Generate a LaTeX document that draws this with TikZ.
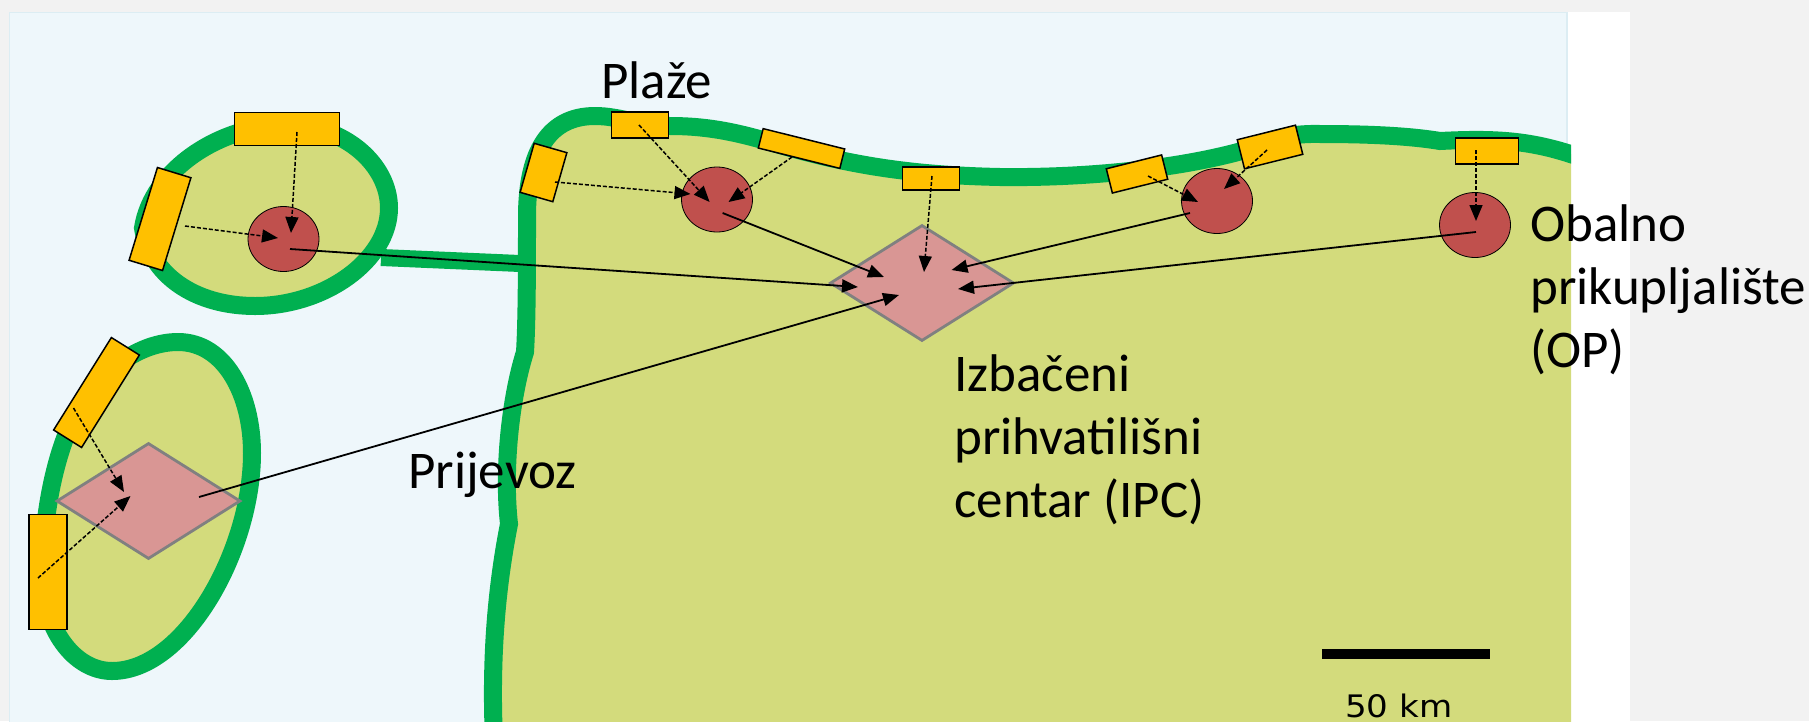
\documentclass[tikz,border=0pt]{standalone}
\usepackage{fontspec}
\setmainfont{Carlito}
\newfontfamily\barfont[FakeStretch=1.1]{DejaVu Sans}
\usetikzlibrary{positioning,arrows.meta,shapes.geometric}
\definecolor{sea}{HTML}{EEF7FB}
\definecolor{seaedge}{HTML}{DCEDF3}
\definecolor{land}{HTML}{D3DB7C}
\definecolor{coast}{HTML}{00B050}
\definecolor{beach}{HTML}{FFC000}
\definecolor{opred}{HTML}{C0504D}
\definecolor{ipcpink}{HTML}{D99694}
\definecolor{page}{HTML}{F2F2F2}
\tikzset{
    shore/.style={draw=coast, line width=18pt, fill=land},
    plaza/.style={draw=black, line width=1.5pt, fill=beach, inner sep=0pt},
    op/.style={draw=black, line width=.8pt, fill=opred, ellipse, inner sep=0pt, minimum width=71pt, minimum height=65pt},
    ipc/.style={draw=black!50, line width=2.8pt, fill=ipcpink, diamond, inner sep=0pt, minimum width=184pt, minimum height=116pt},
    dashflow/.style={-{Triangle[length=16pt,width=13pt]}, line width=1.5pt, dash pattern=on 4pt off 2pt},
    flow/.style={-{Triangle[length=16pt,width=13pt]}, line width=1.8pt},
    label/.style={inner sep=0pt, align=left, font=\fontsize{53}{63}\selectfont}
}

\begin{document}
\begin{tikzpicture}[x=1pt,y=-1pt]
    \useasboundingbox (0,0) rectangle (1809,721);
    % Background
    \fill[page] (0,0) rectangle (1809,721);
    \fill[white] (1560,12) rectangle (1630,721);
    \draw[seaedge, fill=sea, line width=1.5pt] (9.5,12.5) rectangle (1567,730);

    % Islands and mainland
    \draw[coast, line width=17pt] (381,257.5) -- (520,263.5);
    \draw[shore] (143,228) .. controls (152,170) and (220,125) .. (287,125)
        .. controls (345,125) and (389,165) .. (389,208)
        .. controls (389,260) and (325,306) .. (255,306)
        .. controls (195,306) and (150,275) .. (143,228) -- cycle;
    \draw[shore] (178,342) .. controls (225,342) and (252,395) .. (252,453)
        .. controls (252,550) and (185,671) .. (112,671)
        .. controls (75,671) and (42,630) .. (42,570)
        .. controls (44,510) and (55,455) .. (75,415)
        .. controls (100,370) and (140,342) .. (178,342) -- cycle;
    \begin{scope}
        \clip (0,0) rectangle (1571,721);
        \draw[shore] (494,740) .. controls (490,650) and (498,580) .. (509,524)
            .. controls (503,470) and (510,400) .. (525,352)
            .. controls (527,320) and (527,260) .. (527,217)
            .. controls (527,150) and (550,116) .. (595,116)
            .. controls (620,116) and (640,126) .. (670,126)
            .. controls (710,126) and (740,133) .. (780,145)
            .. controls (840,162) and (900,175) .. (1000,177)
            .. controls (1080,178) and (1170,170) .. (1238,152)
            .. controls (1262,144) and (1280,133) .. (1320,134)
            .. controls (1370,134) and (1410,136) .. (1440,141)
            .. controls (1500,138) and (1540,140) .. (1600,165)
            -- (1600,740) -- cycle;
    \end{scope}

    % Beaches
    \foreach \name/\pos/\len/\wid/\ang in {
        plazaA/{(287,129)}/105/33/0, plazaB/{(160,219)}/97/35/73,
        plazaC/{(96.5,392.5)}/109/33/58, plazaD/{(48,572)}/115/38/90,
        plazaE/{(543.5,172.5)}/51/34/74, plazaF/{(640,125)}/57/26/0,
        plazaG/{(801.5,148.5)}/84/20/-14, plazaH/{(931,178.5)}/57/23/0,
        plazaI/{(1137,174)}/57/25/14, plazaJ/{(1270,147)}/60/30/14,
        plazaK/{(1487,151)}/63/26/0} {
        \node[plaza, minimum width=\len pt, minimum height=\wid pt, rotate=\ang] (\name) at \pos {};
    }

    % Coastal collection points
    \foreach \name/\pos in {opA/{(283.5,239)}, opB/{(717,199.5)}, opC/{(1217,201)}, opD/{(1475,225)}} {
        \node[op] (\name) at \pos {};
    }

    % Reception centres
    \node[ipc] (ipcA) at (922,283) {};
    \node[ipc] (ipcB) at (148.5,501) {};

    % Beach to collection point
    \foreach \from/\sx/\sy/\to/\ex/\ey in {
        plazaA/10/3/opA/7.5/-6, plazaB/25/7/opA/-5.5/-1,
        plazaC/-23/15.5/ipcB/-24.5/-9, plazaD/-10/6/ipcB/-18/-5,
        plazaE/11.5/9.5/opB/-26.5/-5.5, plazaF/-1/0/opB/-7.4/2.5,
        plazaG/-9.5/8.5/opB/11.5/2.5, plazaH/1/-2.5/ipcA/2/-11,
        plazaI/11/2/opC/-19/1, plazaJ/-3/3/opC/7/-12,
        plazaK/-11/-1/opD/1/-4} {
        \draw[dashflow] ([shift={(\sx,\sy)}]\from.center) -- ([shift={(\ex,\ey)}]\to.center);
    }

    % Transport to the centre
    \foreach \from/\sx/\sy/\ex/\ey in {
        opA/6.5/10/-64/4, opB/5.6/13.5/-38/-6, opC/-27/12/29.5/-13,
        opD/1/7/36/6, ipcB/50.5/-4/-23/12} {
        \draw[flow] ([shift={(\sx,\sy)}]\from.center) -- ([shift={(\ex,\ey)}]ipcA.center);
    }

    % Labels
    \node[label, anchor=base west] (plazeLabel) at (601,98) {Plaže};
    \node[label, anchor=base west] (prijevozLabel) at (408,488) {Prijevoz};
    \node[label, anchor=north west] (ipcLabel) at (954,354) {Izbačeni\\prihvatilišni\\centar (IPC)};
    \node[label, anchor=north west] (opLabel) at (1530,204) {Obalno\\prikupljalište\\(OP)};

    % Scale bar
    \fill[black] (1322,649) rectangle (1490,659);
    \node[inner sep=0pt, anchor=base west, font=\barfont\fontsize{31}{36}\selectfont] (barLabel) at (1345,717) {50 km};
\end{tikzpicture}
\end{document}
